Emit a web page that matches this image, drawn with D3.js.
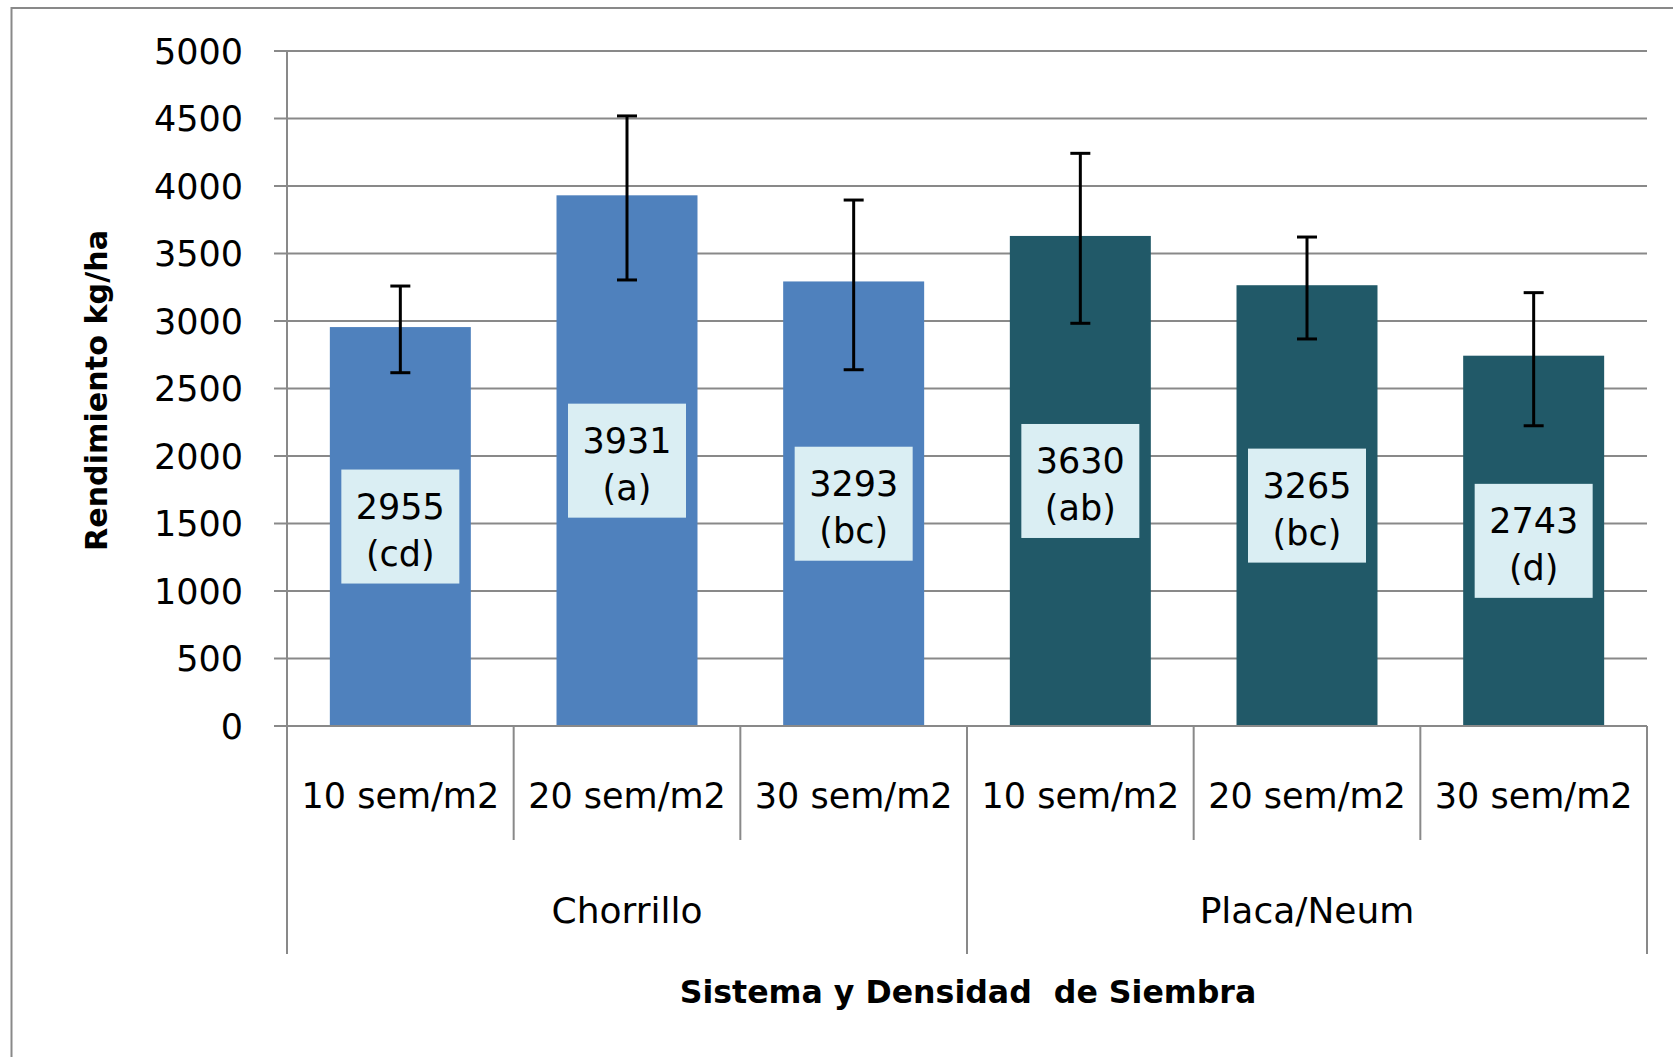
<!DOCTYPE html>
<html>
<head>
<meta charset="utf-8">
<script src="https://cdn.jsdelivr.net/npm/d3@7"></script>
<style>
  html, body { margin: 0; padding: 0; background: #fff; }
  svg { display: block; }
  text { font-family: "DejaVu Sans", sans-serif; fill: #000; }
</style>
</head>
<body>
<svg id="chart" width="1673" height="1057"></svg>
<script>
// ---- data ----
const categories = ["10 sem/m2", "20 sem/m2", "30 sem/m2", "10 sem/m2", "20 sem/m2", "30 sem/m2"];
const groups = ["Chorrillo", "Placa/Neum"];
const groupIndex = [0, 0, 0, 1, 1, 1];
const values = [2955, 3931, 3293, 3630, 3265, 2743];
const errUp = [304, 588, 603, 612, 357, 467];
const errDown = [338, 627, 654, 647, 398, 519];
const letters = ["cd", "a", "bc", "ab", "bc", "d"];
const yTicks = [0, 500, 1000, 1500, 2000, 2500, 3000, 3500, 4000, 4500, 5000];
const yTitle = "Rendimiento kg/ha";
const xTitle = "Sistema y Densidad  de Siembra";

// ---- layout ----
const svg = d3.select("#chart");
const pLeft = 287, pRight = 1647, pTop = 51, pBottom = 726;
const gray = "#898989";
const groupColors = ["#4F81BD", "#215968"];

const x = d3.scaleBand().domain(d3.range(categories.length))
  .range([pLeft, pRight]).paddingInner(0.378).paddingOuter(0.189);
const xCat = d3.scaleBand().domain(d3.range(categories.length)).range([pLeft, pRight]);
const xGroup = d3.scaleBand().domain(d3.range(groups.length)).range([pLeft, pRight]);
const y = d3.scaleLinear().domain([0, 5000]).range([pBottom, pTop]);

// outer frame
svg.append("rect").attr("x", 11.5).attr("y", 8).attr("width", 1720).attr("height", 1100)
  .attr("fill", "none").attr("stroke", gray).attr("stroke-width", 2);

// gridlines + y tick marks
svg.append("g").selectAll("line").data(yTicks).join("line")
  .attr("x1", pLeft - 13).attr("x2", pRight)
  .attr("y1", d => y(d)).attr("y2", d => y(d))
  .attr("stroke", gray).attr("stroke-width", 2);

// y tick labels
svg.append("g").selectAll("text").data(yTicks).join("text")
  .attr("x", 243).attr("y", d => y(d)).attr("dy", "0.36em")
  .attr("text-anchor", "end").attr("font-size", 35)
  .text(d => d);

// bars
svg.append("g").selectAll("rect").data(values).join("rect")
  .attr("x", (d, i) => x(i)).attr("width", x.bandwidth())
  .attr("y", d => y(d)).attr("height", d => y(0) - y(d))
  .attr("fill", (d, i) => groupColors[groupIndex[i]]);

// error bars
const eb = svg.append("g").attr("stroke", "#000").attr("stroke-width", 3);
values.forEach((v, i) => {
  const cx = x(i) + x.bandwidth() / 2;
  const y1 = y(v + errUp[i]), y2 = y(v - errDown[i]);
  eb.append("line").attr("x1", cx).attr("x2", cx).attr("y1", y1).attr("y2", y2);
  eb.append("line").attr("x1", cx - 10).attr("x2", cx + 10).attr("y1", y1).attr("y2", y1);
  eb.append("line").attr("x1", cx - 10).attr("x2", cx + 10).attr("y1", y2).attr("y2", y2);
});

// data labels
const lab = svg.append("g");
values.forEach((v, i) => {
  const cx = x(i) + x.bandwidth() / 2;
  const cy = y(v / 2);
  lab.append("rect").attr("x", cx - 59).attr("y", cy - 57).attr("width", 118).attr("height", 114)
    .attr("fill", "#DAEEF3");
  lab.append("text").attr("x", cx).attr("y", cy - 7.5).attr("text-anchor", "middle")
    .attr("font-size", 35).text(v);
  lab.append("text").attr("x", cx).attr("y", cy + 39).attr("text-anchor", "middle")
    .attr("font-size", 35).text("(" + letters[i] + ")");
});

// axes lines
const ax = svg.append("g").attr("stroke", gray).attr("stroke-width", 2);
ax.append("line").attr("x1", pLeft).attr("x2", pLeft).attr("y1", pTop).attr("y2", pBottom);
ax.append("line").attr("x1", pLeft - 13).attr("x2", pRight).attr("y1", pBottom).attr("y2", pBottom);
// category dividers
d3.range(categories.length + 1).forEach(i => {
  const xx = i < categories.length ? xCat(i) : pRight;
  ax.append("line").attr("x1", xx).attr("x2", xx).attr("y1", pBottom).attr("y2", 840);
});
// group dividers
d3.range(groups.length + 1).forEach(i => {
  const xx = i < groups.length ? xGroup(i) : pRight;
  ax.append("line").attr("x1", xx).attr("x2", xx).attr("y1", 840).attr("y2", 954);
});

// category labels
svg.append("g").selectAll("text").data(categories).join("text")
  .attr("x", (d, i) => xCat(i) + xCat.bandwidth() / 2).attr("y", 808)
  .attr("text-anchor", "middle").attr("font-size", 35).text(d => d);

// group labels
svg.append("g").selectAll("text").data(groups).join("text")
  .attr("x", (d, i) => xGroup(i) + xGroup.bandwidth() / 2).attr("y", 923)
  .attr("text-anchor", "middle").attr("font-size", 36).text(d => d);

// titles
svg.append("text").attr("x", (pLeft + pRight) / 2 + 1).attr("y", 1003)
  .attr("text-anchor", "middle").attr("font-size", 31.6).attr("font-weight", "bold")
  .style("white-space", "pre").text(xTitle);
svg.append("text").attr("transform", `translate(107, ${(pTop + pBottom) / 2 + 2}) rotate(-90)`)
  .attr("text-anchor", "middle").attr("font-size", 30.2).attr("font-weight", "bold")
  .text(yTitle);
</script>
</body>
</html>
